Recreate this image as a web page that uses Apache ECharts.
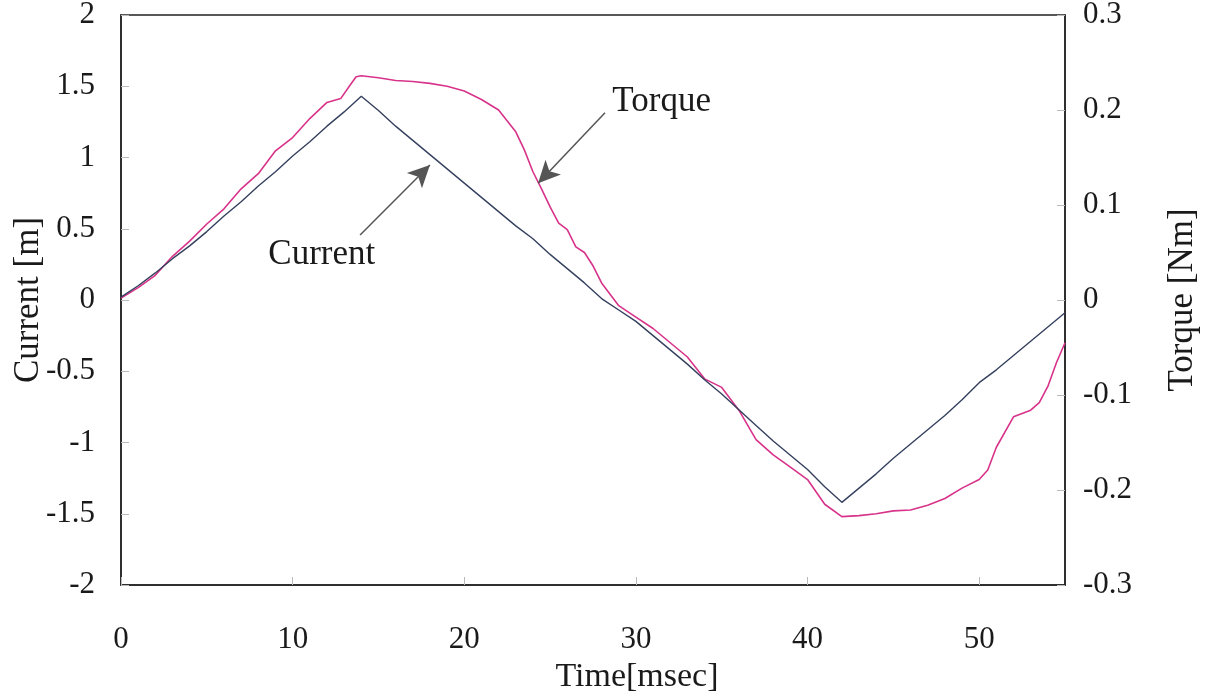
<!DOCTYPE html>
<html><head><meta charset="utf-8">
<script src="https://cdn.jsdelivr.net/npm/echarts@6/dist/echarts.min.js"></script>
<style>html,body{margin:0;padding:0;background:#fff}#c{width:1209px;height:697px}</style>
</head><body><div id="c"></div>
<script>
// Time [msec]
const currentTime = [0,1,2,3,4,5,6,7,8,9,10,11,12,13,14,15,16,17,18,19,20,21,22,23,24,25,26,27,28,29,30,31,32,33,34,35,36,37,38,39,40,41,42,43,44,45,46,47,48,49,50,51,52,53,54,55];
// Current [m] (left axis)
const currentVals = [0.02,0.1,0.19,0.29,0.38,0.48,0.59,0.69,0.8,0.9,1.01,1.11,1.22,1.32,1.43,1.33,1.22,1.12,1.02,0.92,0.82,0.72,0.62,0.52,0.43,0.32,0.22,0.12,0.01,-0.07,-0.15,-0.25,-0.35,-0.45,-0.56,-0.66,-0.77,-0.88,-0.99,-1.09,-1.19,-1.31,-1.42,-1.32,-1.22,-1.11,-1.01,-0.91,-0.81,-0.7,-0.58,-0.49,-0.39,-0.29,-0.19,-0.09];
const torqueTime = [0,1,2,3,4,5,6,7,8,9,10,11,12,12.8,13.3,13.7,14,15,16,17,18,19,20,21,22,23,23.5,24,24.5,25,25.5,26,26.5,27,27.5,28,29,30,31,32,33,34,35,36,37,38,39,40,41,42,43,44,45,46,47,48,49,50,50.5,51,52,53,53.5,54,54.5,55];
// Torque [Nm] (right axis)
const torqueVals = [0.002,0.013,0.026,0.046,0.062,0.080,0.096,0.117,0.133,0.157,0.171,0.191,0.208,0.212,0.225,0.235,0.236,0.234,0.231,0.230,0.228,0.225,0.220,0.211,0.200,0.177,0.158,0.135,0.117,0.098,0.081,0.074,0.056,0.050,0.036,0.018,-0.006,-0.018,-0.030,-0.045,-0.060,-0.083,-0.092,-0.116,-0.147,-0.163,-0.176,-0.189,-0.215,-0.228,-0.227,-0.225,-0.222,-0.221,-0.216,-0.209,-0.198,-0.189,-0.179,-0.155,-0.123,-0.116,-0.108,-0.091,-0.066,-0.045];
const xTicks = [0,10,20,30,40,50];

const FONT = 'Liberation Serif';
const FS = 31;
const chart = echarts.init(document.getElementById('c'));
const txt = {fontFamily: FONT, fontSize: FS, color: '#1a1a1a'};
chart.setOption({
  animation: false,
  backgroundColor: '#fff',
  grid: {left: 121, right: 144, top: 15, bottom: 112, outerBoundsMode: 'none', containLabel: false,
         show: true, borderColor: '#222', borderWidth: 1.5, backgroundColor: 'transparent'},
  xAxis: {
    type: 'value', min: 0, max: 55, interval: 10,
    name: 'Time[msec]', nameLocation: 'middle', nameGap: 73,
    nameTextStyle: {fontFamily: FONT, fontSize: 34, color: '#1a1a1a', padding: [0, 0, 0, 88]},
    axisLine: {onZero: false, lineStyle: {color: '#222', width: 1.5}},
    axisTick: {inside: true, length: 8, lineStyle: {color: '#bbb'}},
    axisLabel: Object.assign({margin: 39, showMaxLabel: false, formatter: v => xTicks.includes(v) ? String(v) : ''}, txt),
    splitLine: {show: false}
  },
  yAxis: [{
    type: 'value', min: -2, max: 2, interval: 0.5,
    name: 'Current [m]', nameLocation: 'middle', nameGap: 75, nameRotate: 90, nameMoveOverlap: false,
    nameTextStyle: {fontFamily: FONT, fontSize: 35, color: '#1a1a1a'},
    axisLine: {show: true, onZero: false, lineStyle: {color: '#222', width: 1.5}},
    axisTick: {show: true, inside: true, length: 8, lineStyle: {color: '#bbb'}},
    axisLabel: Object.assign({margin: 26}, txt),
    splitLine: {show: false}
  }, {
    type: 'value', min: -0.3, max: 0.3, interval: 0.1,
    name: 'Torque [Nm]', nameLocation: 'middle', nameGap: 100, nameRotate: 90, nameMoveOverlap: false,
    nameTextStyle: {fontFamily: FONT, fontSize: 35, color: '#1a1a1a'},
    axisLine: {show: true, onZero: false, lineStyle: {color: '#222', width: 1.5}},
    axisTick: {show: true, inside: true, length: 8, lineStyle: {color: '#bbb'}},
    axisLabel: Object.assign({margin: 18, formatter: v => String(Math.round(v * 10) / 10)}, txt),
    splitLine: {show: false}
  }],
  series: [{
    name: 'Torque', type: 'line', yAxisIndex: 1, showSymbol: false, symbol: 'none',
    data: torqueTime.map((t, i) => [t, torqueVals[i]]),
    lineStyle: {color: '#d8338a', width: 1.6},
    markLine: {
      silent: true, symbol: ['none', 'arrow'], symbolSize: [16, 22],
      lineStyle: {color: '#555', width: 1.5, type: 'solid'}, label: {show: false},
      data: [[{coord: [28.2, 0.197]}, {coord: [24.3, 0.123]}]]
    }
  }, {
    name: 'Current', type: 'line', yAxisIndex: 0, showSymbol: false, symbol: 'none',
    data: currentTime.map((t, i) => [t, currentVals[i]]),
    lineStyle: {color: '#34405e', width: 1.4},
    markLine: {
      silent: true, symbol: ['none', 'arrow'], symbolSize: [16, 22],
      lineStyle: {color: '#555', width: 1.5, type: 'solid'}, label: {show: false},
      data: [[{coord: [13.93, 0.456]}, {coord: [18.0, 0.947]}]]
    }
  }, {
    type: 'scatter', yAxisIndex: 0, symbolSize: 1, silent: true,
    itemStyle: {color: 'rgba(0,0,0,0)', opacity: 1},
    data: [[11.7, 0.316, 'Current'], [31.5, 1.39, 'Torque']],
    label: {show: true, position: 'inside', formatter: p => p.data[2], fontFamily: FONT, fontSize: 35, color: '#1a1a1a'}
  }]
});
</script></body></html>
